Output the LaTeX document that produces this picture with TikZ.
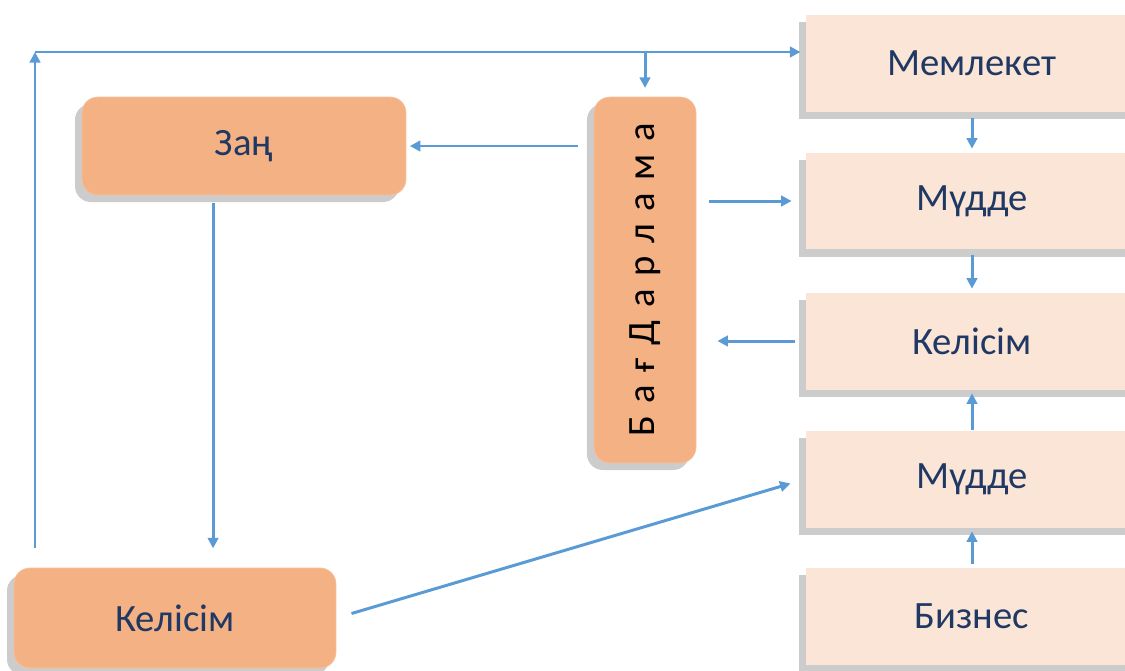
\documentclass[tikz,border=0pt]{standalone}
\usepackage{fontspec}
\setmainfont{Carlito}
\usepackage{xcolor}
\usepackage{tikz}
\usetikzlibrary{positioning, shadows, arrows.meta}

\definecolor{arrowblue}{HTML}{5B9BD5}
\definecolor{peach}{HTML}{F4B183}
\definecolor{lightpeach}{HTML}{FBE5D6}
\definecolor{navytext}{HTML}{1F3864}

\tikzset{
    roundbox/.style={rectangle, rounded corners=9pt, fill=peach, draw=peach!80!white,
        text=navytext, font=\fontsize{22}{26}\selectfont,
        drop shadow={shadow xshift=-4pt, shadow yshift=-4pt, fill=black!40, opacity=0.5}},
    flatbox/.style={rectangle, fill=lightpeach, text=navytext,
        minimum width=6.64cm, minimum height=1.94cm, font=\fontsize{22}{26}\selectfont,
        drop shadow={shadow xshift=-4pt, shadow yshift=-4pt, fill=black!40, opacity=0.5}},
    link/.style={draw=arrowblue, line width=1.7pt, -{Triangle[length=6pt, width=6pt]}},
}

\begin{document}
\begin{tikzpicture}[x=0.02cm, y=-0.02cm]
    \useasboundingbox (0,0) rectangle (1125,670);

    % Правая колонка
    \node[flatbox] (mem)  at (972,63.5) {Мемлекет};
    \node[flatbox] (mud1) at (972,201)  {Мүдде};
    \node[flatbox] (kel1) at (972,341)  {Келісім};
    \node[flatbox] (mud2) at (972,479)  {Мүдде};
    \node[flatbox] (biz)  at (972,616.5) {Бизнес};

    % Левая часть
    \node[roundbox, minimum width=6.48cm, minimum height=1.96cm] (zan) at (244,146) {Заң};
    \node[roundbox, minimum width=2.04cm, minimum height=7.32cm, text=black] (bag) at (645,280)
        {\rotatebox{90}{\addfontfeature{LetterSpace=10}Б а ғ Д а р л а м а}};
    \node[roundbox, minimum width=6.44cm, minimum height=2cm] (kel2) at (175,618) {Келісім};

    % Точки излома
    \coordinate (topleft) at (35,52);
    \coordinate (branch) at (bag.north |- topleft);

    % Связи
    \draw[link, shorten <=11pt] (kel2.north -| topleft) -- (topleft);
    \draw[link, shorten >=3pt] (topleft) -- (mem.west |- topleft);
    \draw[link, shorten >=5pt] (branch) -- (bag.north);
    \draw[link, shorten <=9pt, shorten >=2pt] (bag.west |- zan.east) -- (zan.east);
    \draw[link, shorten <=7pt, shorten >=8pt] (bag.east |- mud1.west) -- (mud1.west);
    \draw[link, shorten <=6pt, shorten >=12pt] (kel1.west) -- (kel1.west -| bag.east);
    \draw[link, shorten <=3pt, shorten >=2pt] (mem) -- (mud1);
    \draw[link, shorten <=3pt, shorten >=2pt] (mud1) -- (kel1);
    \draw[link, shorten >=2pt] (mud2) -- (kel1);
    \draw[link, shorten <=2pt, shorten >=2pt] (biz) -- (mud2);
    \draw[link, shorten <=4.5pt, shorten >=11pt] ([xshift=-17.6pt]zan.south) -- ([xshift=-17.6pt]zan.south |- kel2.north);
    \draw[link, shorten <=9pt, shorten >=9pt] (kel2.east) -- (mud2.west);
\end{tikzpicture}
\end{document}
